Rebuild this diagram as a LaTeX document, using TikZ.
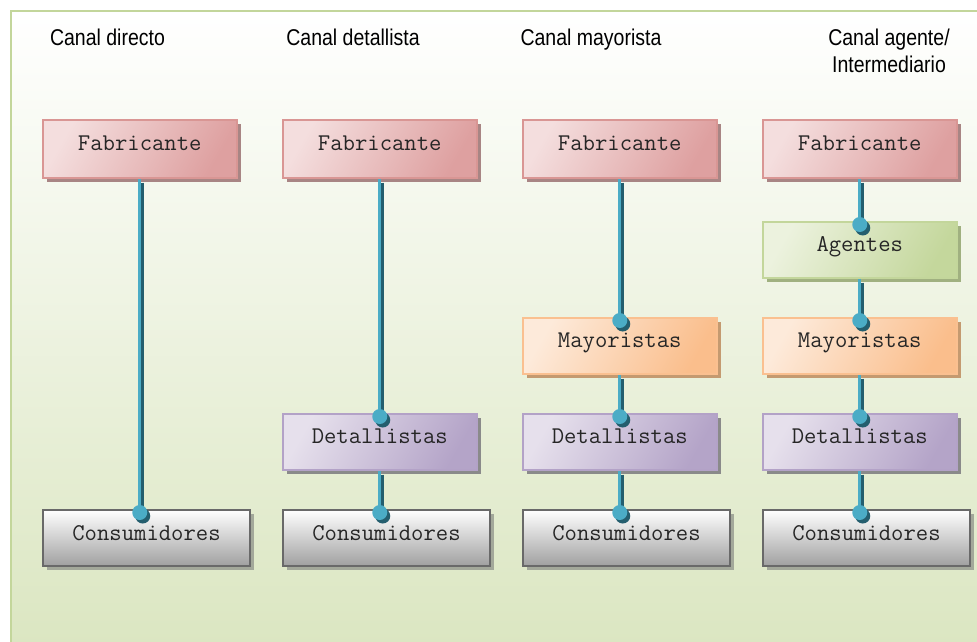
\documentclass[tikz,border=0pt]{standalone}
\usepackage{fontspec}
\setmainfont{Liberation Sans}
\usetikzlibrary{shadows}
\definecolor{bgG}{RGB}{216,228,188}
\definecolor{frameG}{RGB}{195,214,155}
\definecolor{fabB}{RGB}{217,150,148}
\definecolor{fabL}{RGB}{244,222,222}
\definecolor{fabD}{RGB}{222,160,160}
\definecolor{fabS}{RGB}{168,133,132}
\definecolor{agB}{RGB}{195,214,155}
\definecolor{agL}{RGB}{236,242,222}
\definecolor{agD}{RGB}{196,215,156}
\definecolor{agS}{RGB}{160,176,128}
\definecolor{mayB}{RGB}{250,192,144}
\definecolor{mayL}{RGB}{253,234,218}
\definecolor{mayD}{RGB}{250,190,140}
\definecolor{mayS}{RGB}{196,154,112}
\definecolor{detB}{RGB}{179,162,199}
\definecolor{detL}{RGB}{230,224,236}
\definecolor{detD}{RGB}{180,164,200}
\definecolor{detS}{RGB}{138,138,138}
\definecolor{conB}{RGB}{105,105,105}
\definecolor{conD}{RGB}{160,160,160}
\definecolor{conS}{RGB}{163,168,154}
\definecolor{lineL}{RGB}{75,172,198}
\definecolor{lineD}{RGB}{36,94,110}
\newcommand\hd[1]{\scalebox{1}[1.17]{#1}}
\newcommand\conn[2]{%
  \coordinate (t) at (#1.south |- #2.north);
  \draw[lineD, line width=2.5pt] ([shift={(2.5,4)}]#1.south) -- ([shift={(2.5,4)}]t);
  \draw[lineL, line width=3pt] ([shift={(-0.5,0)}]#1.south) -- ([shift={(-0.5,0)}]t);
  \fill[lineD] ([shift={(3,7)}]t) circle (7.5);
  \fill[lineL] ([shift={(0,3.5)}]t) circle (7.5);
}
\tikzset{
  box/.style={rectangle, anchor=north west, minimum width=194pt, minimum height=56pt,
    inner sep=0pt, line width=1.5pt, text height=14pt, text depth=10pt,
    font=\ttfamily\fontsize{24}{24}\selectfont, text=black!85},
  fab/.style={box, minimum height=58pt, draw=fabB, left color=fabL, right color=fabD, shading angle=60,
    drop shadow={shadow xshift=4pt, shadow yshift=-4pt, fill=fabS, opacity=1}},
  ag/.style={box, draw=agB, left color=agL, right color=agD, shading angle=60,
    drop shadow={shadow xshift=4pt, shadow yshift=-4pt, fill=agS, opacity=1}},
  may/.style={box, draw=mayB, left color=mayL, right color=mayD, shading angle=60,
    drop shadow={shadow xshift=4pt, shadow yshift=-4pt, fill=mayS, opacity=1}},
  det/.style={box, draw=detB, left color=detL, right color=detD, shading angle=60,
    drop shadow={shadow xshift=4pt, shadow yshift=-4pt, fill=detS, opacity=1}},
  con/.style={box, minimum width=207pt, draw=conB, line width=2pt, top color=white, bottom color=conD,
    drop shadow={shadow xshift=4pt, shadow yshift=-4pt, fill=conS, opacity=1}},
  head/.style={font=\fontsize{19.5}{24}\selectfont, inner sep=0pt, align=center}
}
\begin{document}
\begin{tikzpicture}[x=1pt,y=-1pt]
\clip (0,0) rectangle (977,642);
\shade[top color=white, bottom color=bgG] (11,11) rectangle (1000,700);
\draw[frameG, line width=2pt] (11,11) rectangle (1000,700);

\node[head, anchor=base] (h1) at (107.5,46) {\hd{Canal directo}};
\node[head, anchor=base] (h2) at (353,46) {\hd{Canal detallista}};
\node[head, anchor=base] (h3) at (591,46) {\hd{Canal mayorista}};
\node[head, anchor=north] (h4) at (889,29) {\hd{Canal agente/}\\[3pt]\hd{Intermediario}};

% column 1
\node[fab] (f1) at (42,119) {Fabricante};
\node[con] (c1) at (42,509) {Consumidores};
% column 2
\node[fab] (f2) at (282,119) {Fabricante};
\node[det] (d2) at (282,413) {Detallistas};
\node[con] (c2) at (282,509) {Consumidores};
% column 3
\node[fab] (f3) at (522,119) {Fabricante};
\node[may] (m3) at (522,317) {Mayoristas};
\node[det] (d3) at (522,413) {Detallistas};
\node[con] (c3) at (522,509) {Consumidores};
% column 4
\node[fab] (f4) at (762,119) {Fabricante};
\node[ag] (a4) at (762,221) {Agentes};
\node[may] (m4) at (762,317) {Mayoristas};
\node[det] (d4) at (762,413) {Detallistas};
\node[con] (c4) at (762,509) {Consumidores};

\conn{f1}{c1}
\conn{f2}{d2}
\conn{d2}{c2}
\conn{f3}{m3}
\conn{m3}{d3}
\conn{d3}{c3}
\conn{f4}{a4}
\conn{a4}{m4}
\conn{m4}{d4}
\conn{d4}{c4}
\end{tikzpicture}
\end{document}
